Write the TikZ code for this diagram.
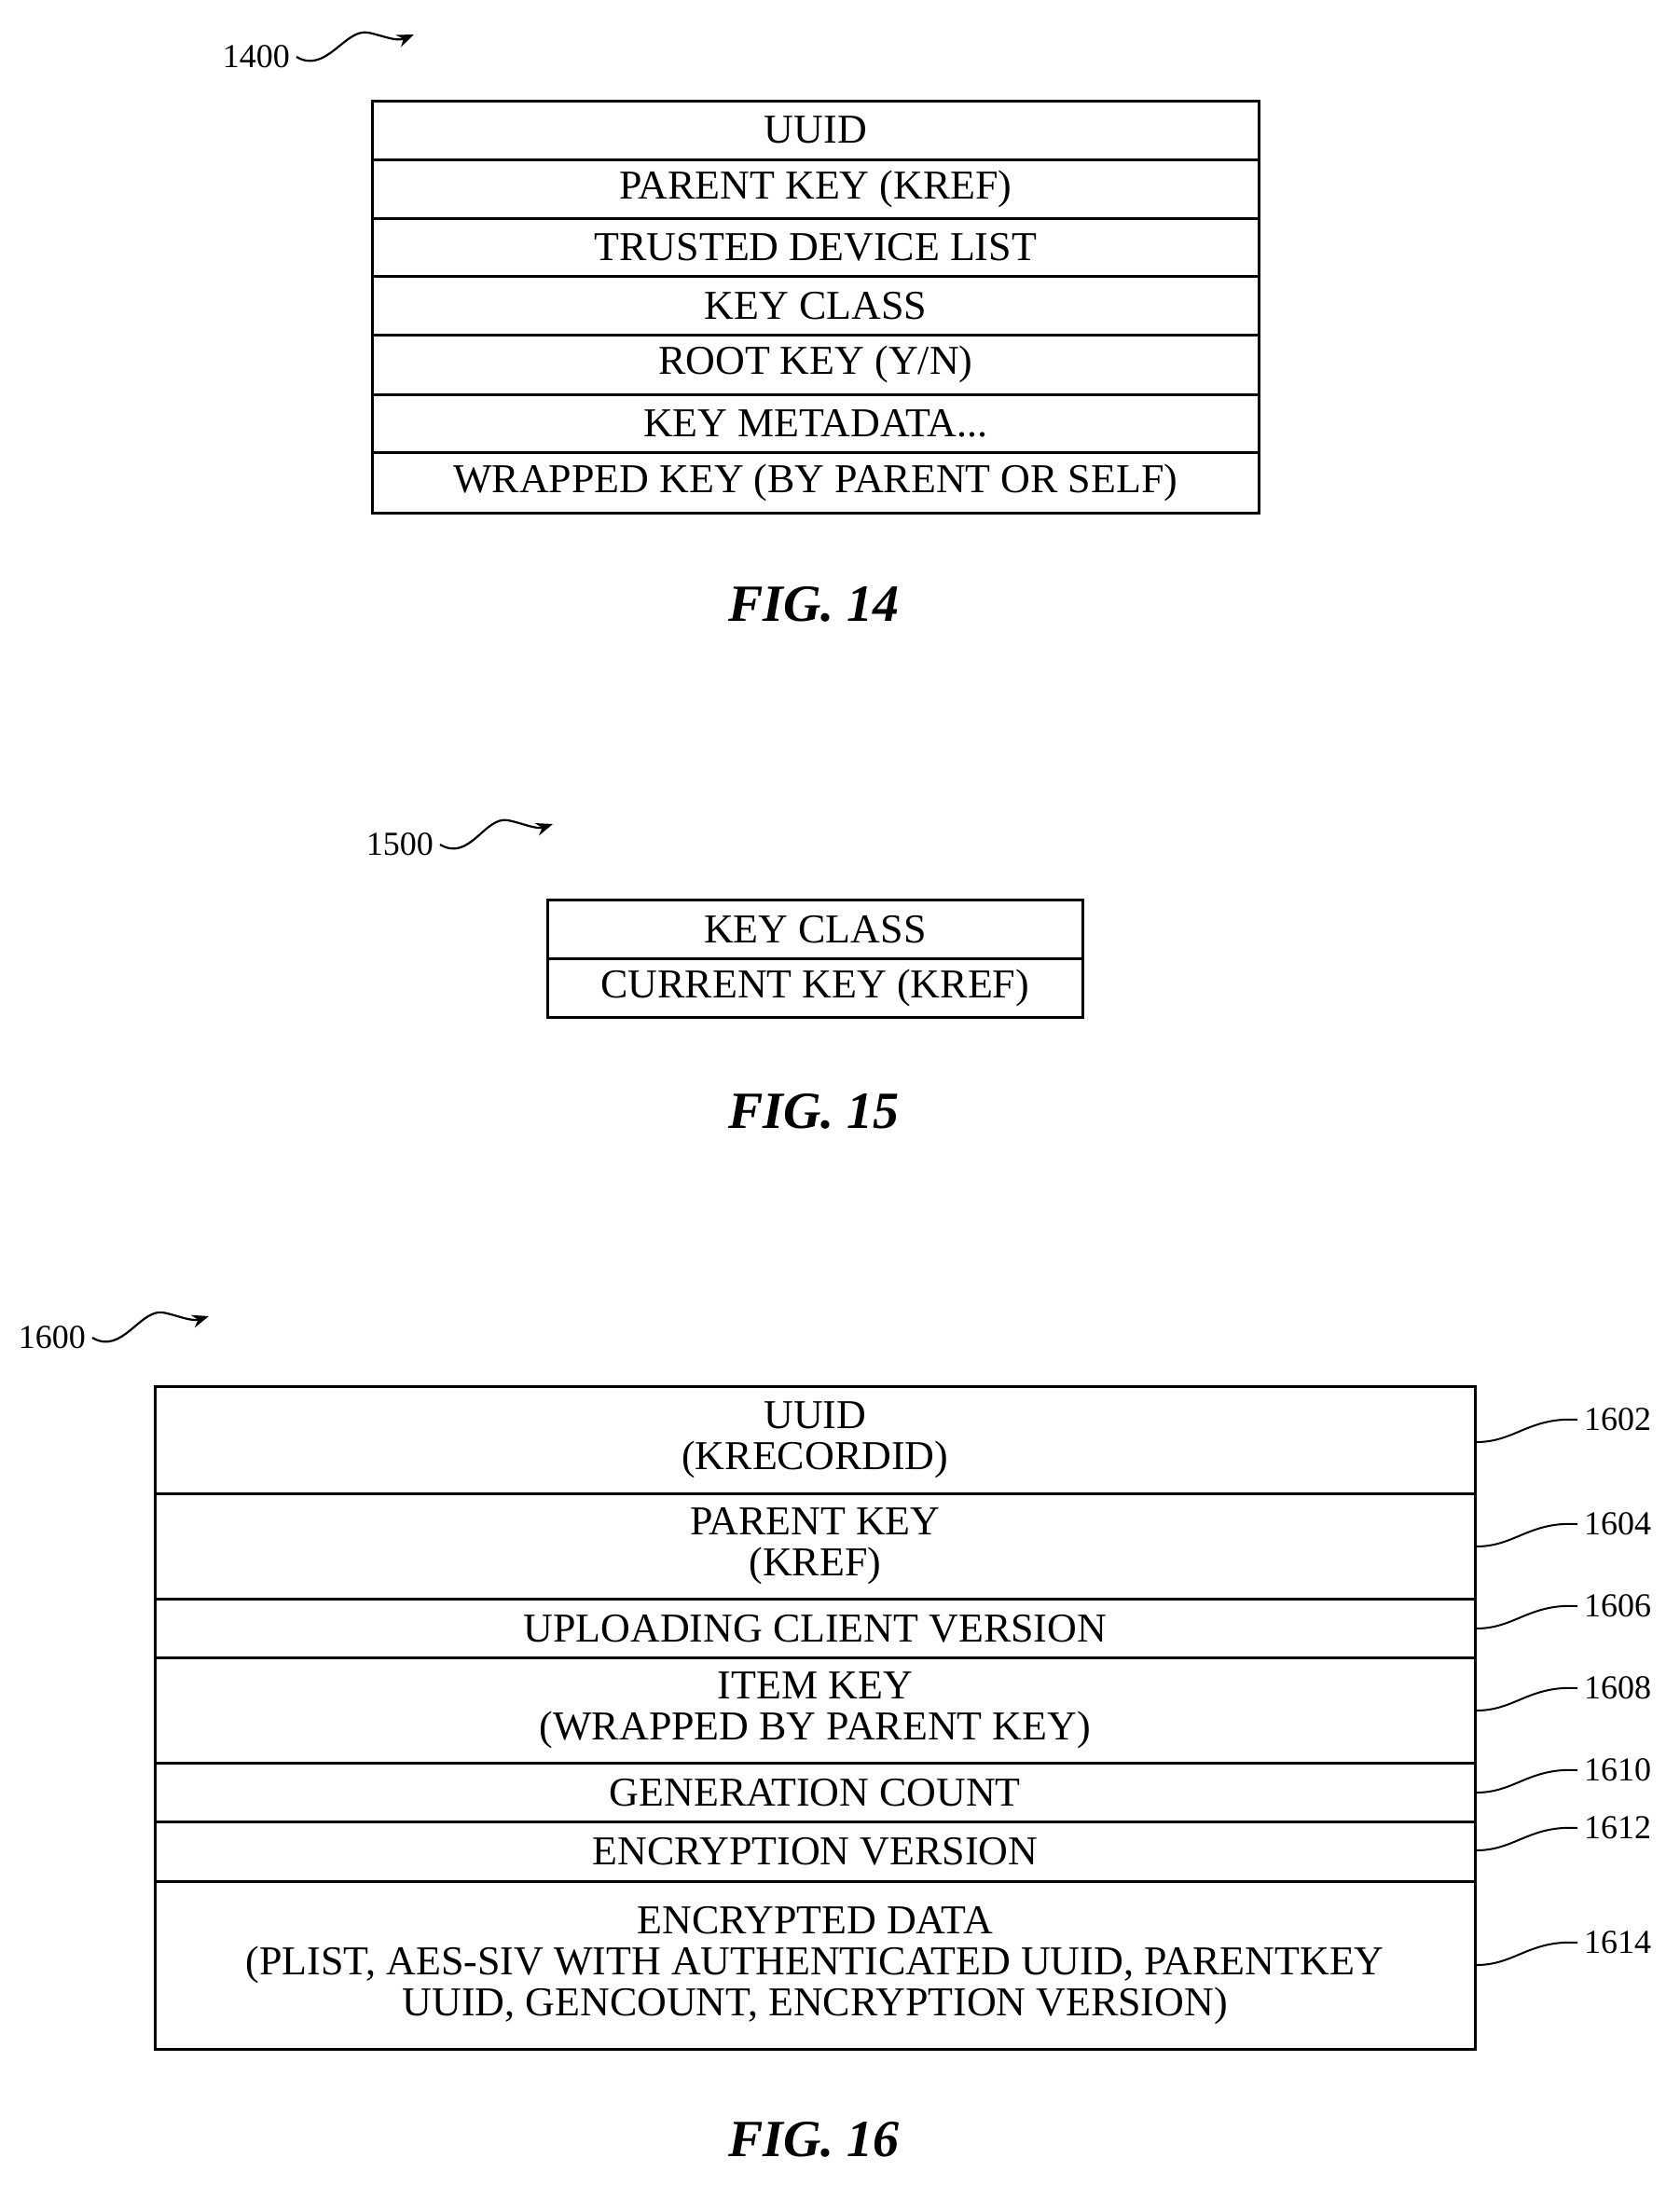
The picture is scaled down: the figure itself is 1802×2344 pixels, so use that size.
\documentclass[tikz,border=0pt]{standalone}
\usepackage{fontspec}
\setmainfont{Liberation Serif}
\usetikzlibrary{arrows.meta}
\begin{document}
\begin{tikzpicture}[x=0.5pt,y=-0.5pt,
 row/.style={draw,line width=1.3pt,inner sep=0pt,align=center,font=\fontsize{22}{22}\selectfont,anchor=north west},
 lbl/.style={font=\fontsize{18}{18}\selectfont},
 fig/.style={font=\fontsize{28}{28}\selectfont\bfseries\itshape},
 sq/.style={line width=1.1pt,-{Stealth[length=9pt,width=7pt]}},
 ld/.style={line width=1pt}]
\useasboundingbox (0,0) rectangle (1802,2344);
% row helper
\def\R#1#2#3#4#5#6{\node[row,minimum width=#3*0.5pt-#2*0.5pt,minimum height=#5*0.5pt-#4*0.5pt] (#1) at (#2,#4) {#6};}
% FIG 14
\R{a1}{398}{1349}{107}{170}{UUID}
\R{a2}{398}{1349}{170}{233}{PARENT KEY (KREF)}
\R{a3}{398}{1349}{233}{295}{TRUSTED DEVICE LIST}
\R{a4}{398}{1349}{295}{358}{KEY CLASS}
\R{a5}{398}{1349}{358}{422}{ROOT KEY (Y/N)}
\R{a6}{398}{1349}{422}{484}{KEY METADATA...}
\R{a7}{398}{1349}{484}{549}{WRAPPED KEY (BY PARENT OR SELF)}
\node[lbl,anchor=east] (n1400) at (318,61) {1400};
\coordinate (e1400) at (444,37);
\draw[sq] (n1400.east) .. controls (350,80) and (370,30) .. (395,35) .. controls (410,38) and (425,45) .. (e1400);
\node[fig] (f14) at (873,648) {FIG. 14};
% FIG 15
\R{b1}{586}{1160}{964}{1027}{KEY CLASS}
\R{b2}{586}{1160}{1027}{1090}{CURRENT KEY (KREF)}
\node[lbl,anchor=east] (n1500) at (472,906) {1500};
\coordinate (e1500) at (593,884);
\draw[sq] (n1500.east) .. controls (504,925) and (520,875) .. (545,880) .. controls (560,883) and (575,890) .. (e1500);
\node[fig] (f15) at (873,1192) {FIG. 15};
% FIG 16
\R{c1}{165}{1581}{1486}{1601}{UUID\\(KRECORDID)}
\R{c2}{165}{1581}{1601}{1714}{PARENT KEY\\(KREF)}
\R{c3}{165}{1581}{1714}{1777}{UPLOADING CLIENT VERSION}
\R{c4}{165}{1581}{1777}{1890}{ITEM KEY\\(WRAPPED BY PARENT KEY)}
\R{c5}{165}{1581}{1890}{1953}{GENERATION COUNT}
\R{c6}{165}{1581}{1953}{2017}{ENCRYPTION VERSION}
\R{c7}{165}{1581}{2017}{2197}{ENCRYPTED DATA\\(PLIST, AES-SIV WITH AUTHENTICATED UUID, PARENTKEY\\UUID, GENCOUNT, ENCRYPTION VERSION)}
\node[lbl,anchor=east] (n1600) at (99,1435) {1600};
\coordinate (e1600) at (224,1412);
\draw[sq] (n1600.east) .. controls (131,1454) and (150,1404) .. (175,1408) .. controls (190,1411) and (205,1418) .. (e1600);
\node[fig] (f16) at (873,2295) {FIG. 16};
\foreach \n/\y/\s in {1602/1523/c1,1604/1635/c2,1606/1723/c3,1608/1811/c4,1610/1899/c5,1612/1961/c6,1614/2084/c7}{
 \node[lbl,anchor=west] (r\n) at (1692,\y) {\n};
 \draw[ld] (\s.east |- 0,\y+24) .. controls (1625,\y+24) and (1640,\y-3) .. (r\n.west);
}
\end{tikzpicture}
\end{document}
